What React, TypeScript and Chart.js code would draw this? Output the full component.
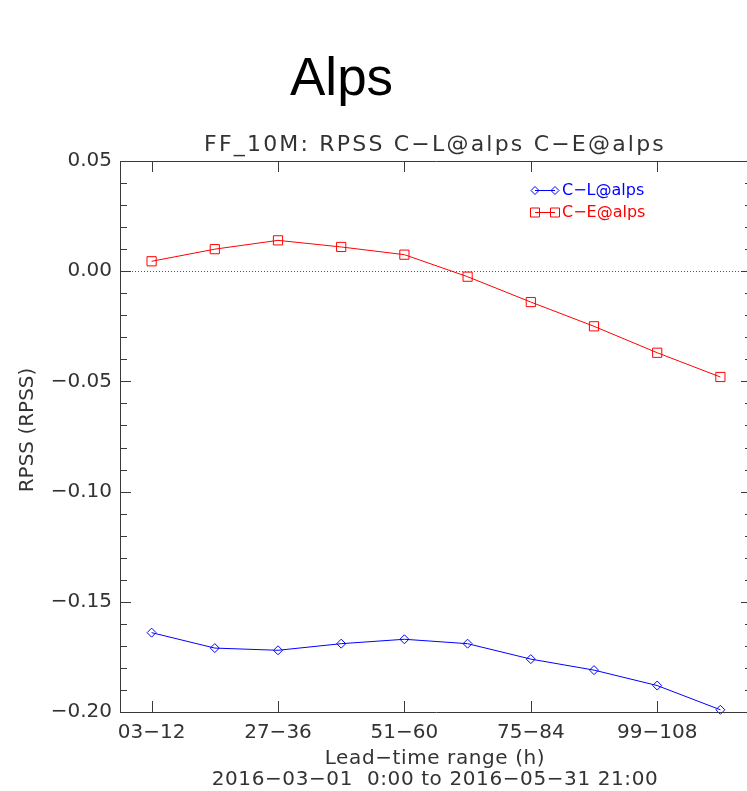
import React, { useEffect, useRef } from "react";
import { Chart, registerables } from "chart.js";

Chart.register(...registerables);

const categories = ["03−12", "15−24", "27−36", "39−48", "51−60", "63−72", "75−84", "87−96", "99−108", "111−120"];
const clAlps = [-0.164, -0.171, -0.172, -0.169, -0.167, -0.169, -0.176, -0.181, -0.188, -0.199];
const ceAlps = [0.0045, 0.010, 0.014, 0.011, 0.0075, -0.0025, -0.014, -0.025, -0.037, -0.048];
const yTickValues = [0.05, 0.0, -0.05, -0.1, -0.15, -0.2];
const seriesNames = ["C−L@alps", "C−E@alps"];
const mainTitle = "Alps";
const subTitle = "FF_10M: RPSS C−L@alps C−E@alps";
const xTitle = "Lead−time range (h)";
const dateLine = "2016−03−01  0:00 to 2016−05−31 21:00";
const yTitle = "RPSS (RPSS)";

const BLUE = "#0000ff";
const RED = "#ff0000";
const AXIS = "#3a3a3a";
const TXT = "#333333";
const FONT = "'DejaVu Sans', sans-serif";

function fmt(v: number): string {
  const s = (Math.abs(v) < 1e-9 ? 0 : v).toFixed(2);
  return s.replace("-", "−");
}

function diamond(ctx: CanvasRenderingContext2D, x: number, y: number, r: number) {
  ctx.beginPath();
  ctx.moveTo(x, y - r);
  ctx.lineTo(x + r, y);
  ctx.lineTo(x, y + r);
  ctx.lineTo(x - r, y);
  ctx.closePath();
  ctx.stroke();
}
function square(ctx: CanvasRenderingContext2D, x: number, y: number, h: number) {
  ctx.beginPath();
  ctx.rect(x - h, y - h, 2 * h, 2 * h);
  ctx.stroke();
}

const idlPlugin = {
  id: "idlDecor",
  beforeDatasetsDraw(chart: any) {
    const { ctx, chartArea } = chart;
    const y0 = chart.scales.y.getPixelForValue(0);
    ctx.save();
    ctx.strokeStyle = "#555";
    ctx.lineWidth = 1;
    ctx.setLineDash([1, 2]);
    ctx.beginPath();
    ctx.moveTo(chartArea.left, Math.round(y0) + 0.5);
    ctx.lineTo(chartArea.right, Math.round(y0) + 0.5);
    ctx.stroke();
    ctx.restore();
  },
  afterDraw(chart: any) {
    const { ctx, chartArea } = chart;
    const { left, right, top, bottom } = chartArea;
    const xs = chart.scales.x;
    const ys = chart.scales.y;
    ctx.save();
    // box
    ctx.strokeStyle = AXIS;
    ctx.lineWidth = 1;
    ctx.beginPath();
    ctx.moveTo(left + 0.5, top + 0.5);
    ctx.lineTo(right + 0.5, top + 0.5);
    ctx.lineTo(right + 0.5, bottom + 0.5);
    ctx.lineTo(left + 0.5, bottom + 0.5);
    ctx.closePath();
    ctx.stroke();
    // x ticks
    ctx.beginPath();
    categories.forEach((_, i) => {
      if (i % 2 !== 0) return;
      const x = Math.round(xs.getPixelForValue(i)) + 0.5;
      ctx.moveTo(x, bottom);
      ctx.lineTo(x, bottom - 11);
      ctx.moveTo(x, top);
      ctx.lineTo(x, top + 11);
    });
    // y ticks
    for (let k = -20; k <= 5; k++) {
      const v = k / 100;
      const y = Math.round(ys.getPixelForValue(v)) + 0.5;
      const len = k % 5 === 0 ? 11 : 7;
      ctx.moveTo(left, y);
      ctx.lineTo(left + len, y);
      ctx.moveTo(right, y);
      ctx.lineTo(right - len, y);
    }
    ctx.stroke();

    // legend
    const rows = [
      { name: seriesNames[0], color: BLUE, y: 190, kind: "d" },
      { name: seriesNames[1], color: RED, y: 212, kind: "s" },
    ];
    ctx.lineWidth = 1;
    ctx.font = `16px ${FONT}`;
    ctx.textBaseline = "middle";
    ctx.textAlign = "left";
    rows.forEach((r) => {
      ctx.strokeStyle = r.color;
      ctx.beginPath();
      ctx.moveTo(535, r.y + 0.5);
      ctx.lineTo(555, r.y + 0.5);
      ctx.stroke();
      if (r.kind === "d") {
        diamond(ctx, 535, r.y + 0.5, 4);
        diamond(ctx, 555, r.y + 0.5, 4);
      } else {
        square(ctx, 535, r.y + 0.5, 4.5);
        square(ctx, 555, r.y + 0.5, 4.5);
      }
      ctx.fillStyle = r.color;
      ctx.fillText(r.name, 562, r.y + 1);
    });

    // titles
    ctx.fillStyle = "#000";
    ctx.font = `53px 'Liberation Sans', Arial, sans-serif`;
    ctx.textAlign = "left";
    ctx.textBaseline = "alphabetic";
    ctx.fillText(mainTitle, 290, 95);

    const cx = (left + right) / 2 - 1;
    ctx.fillStyle = TXT;
    ctx.font = `22px ${FONT}`;
    ctx.textAlign = "center";
    (ctx as any).letterSpacing = "2.2px";
    ctx.fillText(subTitle, cx, 151);

    ctx.font = `20px ${FONT}`;
    (ctx as any).letterSpacing = "0.6px";
    ctx.fillText(xTitle, cx, 764);
    ctx.fillText(dateLine, cx, 785);
    (ctx as any).letterSpacing = "0px";

    ctx.save();
    ctx.translate(33, 430);
    ctx.rotate(-Math.PI / 2);
    ctx.textAlign = "center";
    ctx.fillText(yTitle, 0, 0);
    ctx.restore();

    ctx.restore();
  },
};

export default function App() {
  const ref = useRef<HTMLCanvasElement | null>(null);
  useEffect(() => {
    if (!ref.current) return;
    const chart = new Chart(ref.current, {
      type: "line",
      data: {
        labels: categories,
        datasets: [
          {
            label: seriesNames[0],
            data: clAlps,
            borderColor: BLUE,
            backgroundColor: "transparent",
            borderWidth: 1,
            pointStyle: "rectRot",
            pointRadius: 4.5,
            pointBorderColor: BLUE,
            pointBackgroundColor: "transparent",
            pointBorderWidth: 1,
            tension: 0,
            clip: false as any,
          },
          {
            label: seriesNames[1],
            data: ceAlps,
            borderColor: RED,
            backgroundColor: "transparent",
            borderWidth: 1,
            pointStyle: "rect",
            pointRadius: 6.5,
            pointBorderColor: RED,
            pointBackgroundColor: "transparent",
            pointBorderWidth: 1,
            tension: 0,
            clip: false as any,
          },
        ],
      },
      options: {
        responsive: false,
        animation: false,
        layout: { padding: { top: 161, right: 8, left: 0, bottom: 0 } },
        plugins: {
          legend: { display: false },
          title: { display: false },
          tooltip: { enabled: false },
        },
        scales: {
          x: {
            type: "category",
            offset: true,
            grid: { display: false, drawTicks: false },
            border: { display: false },
            ticks: {
              autoSkip: false,
              maxRotation: 0,
              padding: 9,
              color: TXT,
              font: { family: FONT, size: 20 },
              callback: (_v: any, i: number) => (i % 2 === 0 ? categories[i] : ""),
            },
            afterFit: (s: any) => {
              s.height = 79;
            },
          },
          y: {
            type: "linear",
            min: -0.2,
            max: 0.05,
            grid: { display: false, drawTicks: false },
            border: { display: false },
            afterBuildTicks: (s: any) => {
              s.ticks = yTickValues.map((v) => ({ value: v }));
            },
            ticks: {
              padding: 8,
              color: TXT,
              font: { family: FONT, size: 20 },
              callback: (v: any) => fmt(Number(v)),
            },
            afterFit: (s: any) => {
              s.width = 120;
            },
          },
        },
      },
      plugins: [idlPlugin],
    });
    return () => chart.destroy();
  }, []);
  return (
    <div style={{ position: "absolute", left: 0, top: 0, width: 747, height: 791, overflow: "hidden", background: "#fff" }}>
      <canvas ref={ref} width={760} height={791} style={{ width: 760, height: 791, display: "block" }} />
    </div>
  );
}
